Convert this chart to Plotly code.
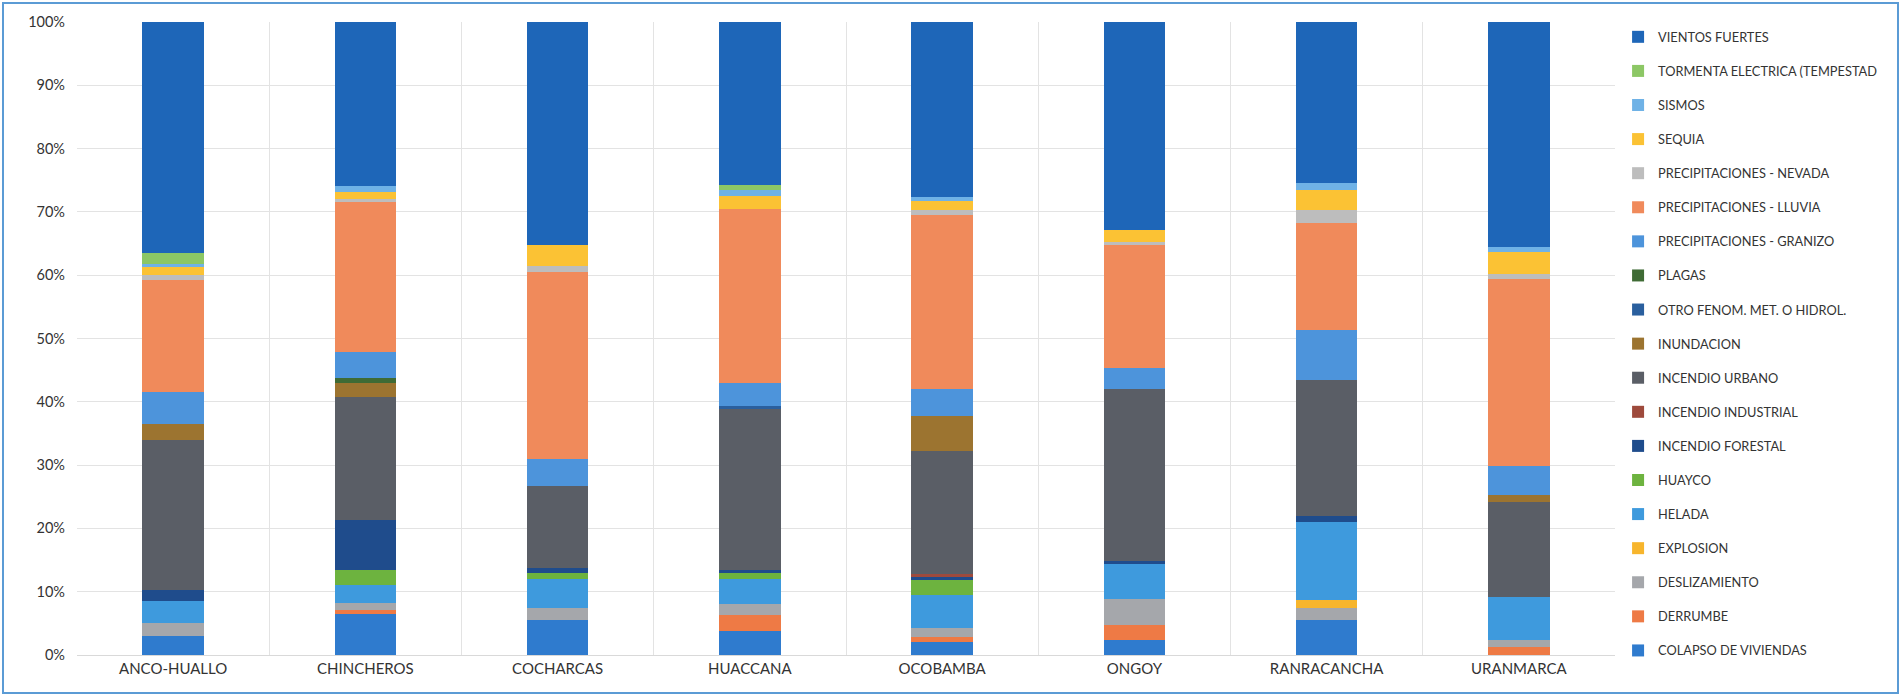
import plotly.graph_objects as go

categories = ["ANCO-HUALLO", "CHINCHEROS", "COCHARCAS", "HUACCANA",
              "OCOBAMBA", "ONGOY", "RANRACANCHA", "URANMARCA"]

series_names = [
    "COLAPSO DE VIVIENDAS", "DERRUMBE", "DESLIZAMIENTO", "EXPLOSION", "HELADA",
    "HUAYCO", "INCENDIO FORESTAL", "INCENDIO INDUSTRIAL", "INCENDIO URBANO",
    "INUNDACION", "OTRO FENOM. MET. O HIDROL.", "PLAGAS",
    "PRECIPITACIONES - GRANIZO", "PRECIPITACIONES - LLUVIA",
    "PRECIPITACIONES - NEVADA", "SEQUIA", "SISMOS",
    "TORMENTA ELECTRICA (TEMPESTAD", "VIENTOS FUERTES",
]

colapso = [3.0, 6.5, 5.5, 3.8, 2.0, 2.3, 5.5, 0.0]
derrumbe = [0.0, 0.6, 0.0, 2.5, 0.8, 2.5, 0.0, 1.3]
deslizamiento = [2.0, 1.1, 2.0, 1.7, 1.5, 4.0, 2.0, 1.0]
explosion = [0.0, 0.0, 0.0, 0.0, 0.0, 0.0, 1.2, 0.0]
helada = [3.5, 2.9, 4.5, 4.0, 5.2, 5.5, 12.3, 6.8]
huayco = [0.0, 2.4, 1.0, 1.0, 2.3, 0.0, 0.0, 0.0]
inc_forestal = [1.8, 7.8, 0.7, 0.4, 0.5, 0.5, 1.0, 0.0]
inc_industrial = [0.0, 0.0, 0.0, 0.0, 0.5, 0.0, 0.0, 0.0]
inc_urbano = [23.7, 19.4, 13.0, 25.5, 19.5, 27.2, 21.5, 15.0]
inundacion = [2.5, 2.3, 0.0, 0.0, 5.5, 0.0, 0.0, 1.2]
otro_fenom = [0.0, 0.0, 0.0, 0.5, 0.0, 0.0, 0.0, 0.0]
plagas = [0.0, 0.7, 0.0, 0.0, 0.0, 0.0, 0.0, 0.0]
granizo = [5.0, 4.2, 4.3, 3.6, 4.2, 3.3, 7.8, 4.5]
lluvia = [17.8, 23.7, 29.5, 27.5, 27.5, 19.5, 17.0, 29.6]
nevada = [0.8, 0.4, 1.0, 0.0, 0.8, 0.4, 2.0, 0.8]
sequia = [1.2, 1.1, 3.3, 2.0, 1.5, 2.0, 3.2, 3.5]
sismos = [0.4, 1.0, 0.0, 1.0, 0.5, 0.0, 1.0, 0.8]
tormenta = [1.8, 0.0, 0.0, 0.7, 0.0, 0.0, 0.0, 0.0]
vientos = [36.5, 25.9, 35.2, 25.8, 27.7, 32.8, 25.5, 35.5]

series_values = [colapso, derrumbe, deslizamiento, explosion, helada, huayco,
                 inc_forestal, inc_industrial, inc_urbano, inundacion,
                 otro_fenom, plagas, granizo, lluvia, nevada, sequia, sismos,
                 tormenta, vientos]

colors = ["#2F7BCE", "#EE7A45", "#A5A7AB", "#F7B52C", "#3E9ADD", "#6DB33F",
          "#1F4C8C", "#9E4A3C", "#5A5E66", "#9C7430", "#2A5F9E", "#3F6B35",
          "#4D94DB", "#F08A5B", "#BDBDBD", "#FBC234", "#6FB2E6", "#8CC765",
          "#1E66B8"]

yticks = [0, 10, 20, 30, 40, 50, 60, 70, 80, 90, 100]
ytick_labels = [f"{v}%" for v in yticks]

fig = go.Figure()
n = len(series_names)
for i, (name, vals, col) in enumerate(zip(series_names, series_values, colors)):
    fig.add_trace(go.Bar(
        x=categories, y=vals, name=name, marker_color=col,
        marker_line_width=0, legendgroup=name, legendrank=1000 - i,
    ))

fig.update_layout(
    barmode="stack",
    barnorm="percent",
    bargap=0.68,
    width=1901, height=696,
    margin=dict(l=77, r=286, t=22, b=41),
    paper_bgcolor="white",
    plot_bgcolor="white",
    font=dict(family="Lato, Open Sans, sans-serif", color="#333333"),
    legend=dict(
        traceorder="grouped",
        x=1.002, y=1.0, xanchor="left", yanchor="top",
        font=dict(size=12.8, color="#333333"),
        tracegroupgap=14.45,
        itemwidth=30,
        maxheight=1000,
        bgcolor="rgba(0,0,0,0)",
    ),
    xaxis=dict(
        tickson="boundaries",
        showgrid=True, gridcolor="#E3E3E3", gridwidth=1,
        ticks="", tickfont=dict(size=15, color="#333333"),
        showline=True, linecolor="#D9D9D9",
    ),
    yaxis=dict(
        range=[0, 100], tickvals=yticks, ticktext=ytick_labels,
        showgrid=True, gridcolor="#E3E3E3", gridwidth=1,
        tickfont=dict(size=14.5, color="#333333"),
        ticklabelstandoff=11, zeroline=False,
    ),
    shapes=[dict(
        type="rect", xref="paper", yref="paper",
        x0=(3 - 77) / 1538, x1=(1898 - 77) / 1538,
        y0=(655 - 693) / 633, y1=(655 - 3) / 633,
        line=dict(color="#5B9BD5", width=2), fillcolor="rgba(0,0,0,0)",
    )],
)

fig.write_html("out.html")
